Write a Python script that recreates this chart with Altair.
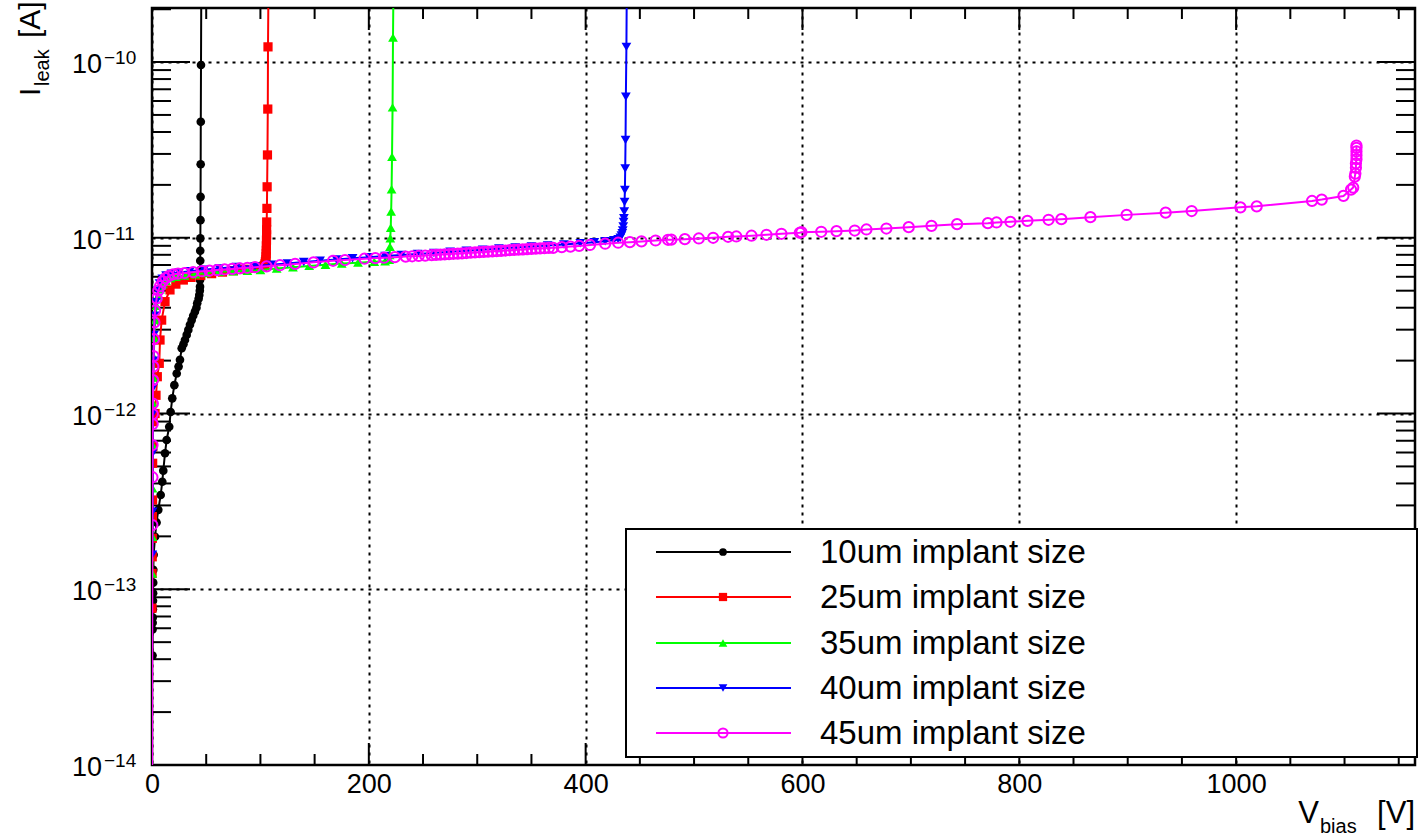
import altair as alt
import pandas as pd

# ---------------- data ----------------
labels = ["10um implant size", "25um implant size", "35um implant size",
          "40um implant size", "45um implant size"]

V_10 = [0.5, 0.5, 0.6, 0.7, 0.8, 0.9, 1.0, 1.1, 1.2, 1.5, 2.8, 4.2, 5.8, 8.0, 9.5,
        10.4, 12.0, 13.5, 15.9, 17.2, 18.7, 20.6, 22.8, 24.5, 25.8, 27.4, 29.0, 30.4,
        32.0, 33.5, 35.0, 36.6, 38.0, 39.6, 41.0, 41.7, 43.0, 43.6, 44.1, 44.3, 44.3,
        44.4, 44.4, 44.5, 44.5, 44.6, 44.7, 44.8, 44.9, 45.0, 45.2, 45.5]
I_10 = [4.2e-14, 5.9e-14, 6.45e-14, 6.9e-14, 7.7e-14, 8.6e-14, 9.5e-14, 1.09e-13,
        1.29e-13, 1.57e-13, 1.99e-13, 2.4e-13, 2.83e-13, 3.44e-13, 4.09e-13, 4.73e-13,
        5.94e-13, 7.07e-13, 8.41e-13, 1.02e-12, 1.22e-12, 1.45e-12, 1.69e-12, 1.85e-12,
        2.02e-12, 2.35e-12, 2.48e-12, 2.62e-12, 2.8e-12, 2.99e-12, 3.2e-12, 3.4e-12,
        3.6e-12, 3.8e-12, 4.0e-12, 4.24e-12, 4.5e-12, 4.72e-12, 5.0e-12, 5.27e-12,
        5.75e-12, 6.1e-12, 6.55e-12, 7.4e-12, 8.44e-12, 9.93e-12, 1.26e-11, 1.71e-11,
        2.62e-11, 4.57e-11, 9.62e-11, 3.0e-10]

V_25 = [0.0, 0.1, 0.2, 0.3, 0.4, 0.5, 0.6, 0.8, 1.0, 2.8, 3.7, 4.9, 6.7, 7.4, 8.9,
        12.0, 16.6, 22.0, 28.9, 36.0, 45.0, 55.0, 65.0, 75.0, 85.0, 95.0, 102.0, 103.5,
        104.2, 104.6, 105.0, 105.2, 105.3, 105.4, 105.5, 105.6, 105.7, 105.7, 105.8,
        106.0, 106.2, 106.5, 106.8, 107.0, 107.5]
I_25 = [7.8e-14, 1.23e-13, 1.53e-13, 1.95e-13, 2.59e-13, 3.22e-13, 5.21e-13, 6.47e-13,
        8.98e-13, 1.0e-12, 1.27e-12, 1.62e-12, 1.93e-12, 2.62e-12, 3.4e-12, 4.33e-12,
        5.05e-12, 5.45e-12, 5.75e-12, 5.95e-12, 6.1e-12, 6.25e-12, 6.38e-12, 6.5e-12,
        6.62e-12, 6.72e-12, 6.85e-12, 6.95e-12, 7.1e-12, 7.3e-12, 7.5e-12, 7.8e-12,
        8.1e-12, 8.5e-12, 9.0e-12, 9.7e-12, 1.04e-11, 1.11e-11, 1.23e-11, 1.47e-11,
        1.95e-11, 2.96e-11, 5.4e-11, 1.22e-10, 3.0e-10]

V_35 = [0.3, 0.4, 0.5, 0.6, 0.8, 1.2, 1.6, 2.2, 3.0, 4.2, 5.8, 7.5, 10.0, 13.0, 17.0,
        22.0, 30.0, 40.0, 50.0, 62.0, 75.0, 88.0, 100.0, 115.0, 130.0, 145.0, 160.0,
        175.0, 190.0, 205.0, 215.0, 218.8, 219.2, 219.5, 219.8, 220.2, 220.6, 221.0,
        221.4, 221.9, 222.3, 222.8]
I_35 = [1.23e-13, 1.99e-13, 3.75e-13, 6.62e-13, 1.15e-12, 1.6e-12, 2.1e-12, 2.7e-12,
        3.4e-12, 4.1e-12, 4.7e-12, 5.1e-12, 5.45e-12, 5.7e-12, 5.9e-12, 6.0e-12, 6.1e-12,
        6.2e-12, 6.3e-12, 6.4e-12, 6.45e-12, 6.5e-12, 6.55e-12, 6.68e-12, 6.8e-12,
        6.92e-12, 7.03e-12, 7.13e-12, 7.22e-12, 7.3e-12, 7.36e-12, 7.5e-12, 7.98e-12,
        8.89e-12, 9.93e-12, 1.14e-11, 1.41e-11, 1.89e-11, 2.89e-11, 5.52e-11, 1.38e-10,
        3.0e-10]

V_40 = [0.3, 0.5, 0.6, 0.8, 1.0, 1.3, 1.8, 2.5, 3.5, 5.0, 7.0, 9.5, 13.0, 18.0, 25.0,
        35.0, 48.0, 62.0, 78.0, 95.0, 110.0, 125.0, 140.0, 155.0, 170.0, 185.0, 200.0,
        215.0, 230.0, 245.0, 260.0, 275.0, 290.0, 305.0, 320.0, 335.0, 350.0, 365.0,
        380.0, 395.0, 408.0, 418.0, 426.0, 430.0, 432.0, 433.0, 433.8, 434.3, 434.7,
        435.0, 435.3, 435.6, 435.9, 436.2, 436.5, 436.8, 437.1, 437.6, 438.0]
I_40 = [1.57e-13, 2.76e-13, 5.94e-13, 1.0e-12, 1.4e-12, 2.0e-12, 2.8e-12, 3.6e-12,
        4.3e-12, 5.0e-12, 5.5e-12, 5.85e-12, 6.1e-12, 6.25e-12, 6.35e-12, 6.45e-12,
        6.58e-12, 6.7e-12, 6.82e-12, 6.9e-12, 7.02e-12, 7.15e-12, 7.28e-12, 7.4e-12,
        7.53e-12, 7.65e-12, 7.76e-12, 7.88e-12, 7.98e-12, 8.08e-12, 8.2e-12, 8.32e-12,
        8.44e-12, 8.56e-12, 8.68e-12, 8.8e-12, 8.92e-12, 9.04e-12, 9.16e-12, 9.3e-12,
        9.42e-12, 9.55e-12, 9.68e-12, 9.8e-12, 1.0e-11, 1.03e-11, 1.06e-11, 1.1e-11,
        1.16e-11, 1.23e-11, 1.29e-11, 1.41e-11, 1.6e-11, 1.87e-11, 2.48e-11, 3.6e-11,
        6.35e-11, 1.22e-10, 3.0e-10]

V_45 = [0.0, 0.3, 0.4, 0.5, 0.6, 0.7, 0.8, 1.0, 1.2, 1.4, 1.8, 2.2, 2.8, 4.3, 5.8, 7.4,
        9.9, 12.5, 15.4, 19.6, 24.0, 30.0, 38.0, 46.0, 53.0, 60.0, 67.0, 74.0, 81.0,
        88.0, 95.0, 105.7, 118.0, 132.0, 149.0, 167.0, 178.0, 196.0, 206.0, 214.0,
        224.0, 234.0, 240.0, 246.0, 252.0, 258.0, 262.0, 266.0, 270.0, 274.0, 278.0,
        282.0, 286.0, 290.0, 294.0, 298.0, 302.0, 306.0, 310.0, 314.0, 318.0, 322.0,
        326.0, 330.0, 334.0, 338.0, 342.0, 346.0, 350.0, 354.0, 358.0, 362.0, 366.0,
        370.0, 378.0, 386.0, 394.0, 404.0, 418.0, 430.0, 440.8, 451.5, 464.5, 476.0,
        479.0, 491.5, 504.4, 517.6, 531.4, 539.0, 553.0, 566.8, 580.6, 597.5, 599.0,
        617.3, 631.4, 648.2, 659.0, 677.4, 698.0, 719.0, 742.6, 771.0, 779.0, 791.8,
        807.5, 827.0, 838.8, 865.6, 899.0, 935.0, 959.0, 1004.0, 1019.0, 1070.0,
        1079.0, 1099.0, 1106.0, 1108.0, 1109.5, 1110.0, 1110.5, 1110.5, 1111.0, 1111.0,
        1111.0, 1111.0, 1111.0]
I_45 = [1e-15, 2.32e-13, 4.34e-13, 6.62e-13, 8.71e-13, 9.93e-13, 1.14e-12, 1.55e-12,
        1.85e-12, 2.12e-12, 2.65e-12, 3.3e-12, 3.85e-12, 4.52e-12, 5.0e-12, 5.3e-12,
        5.65e-12, 5.9e-12, 6.05e-12, 6.2e-12, 6.25e-12, 6.3e-12, 6.38e-12, 6.45e-12,
        6.5e-12, 6.55e-12, 6.6e-12, 6.65e-12, 6.7e-12, 6.75e-12, 6.8e-12, 6.88e-12,
        6.98e-12, 7.1e-12, 7.25e-12, 7.4e-12, 7.47e-12, 7.6e-12, 7.66e-12, 7.7e-12,
        7.76e-12, 7.82e-12, 7.85e-12, 7.88e-12, 7.92e-12, 7.96e-12, 7.99e-12, 8.02e-12,
        8.05e-12, 8.08e-12, 8.11e-12, 8.13e-12, 8.16e-12, 8.19e-12, 8.22e-12, 8.25e-12,
        8.28e-12, 8.31e-12, 8.34e-12, 8.37e-12, 8.4e-12, 8.43e-12, 8.46e-12, 8.5e-12,
        8.53e-12, 8.56e-12, 8.59e-12, 8.62e-12, 8.65e-12, 8.68e-12, 8.7e-12, 8.72e-12,
        8.75e-12, 8.77e-12, 8.84e-12, 8.91e-12, 8.99e-12, 9.1e-12, 9.25e-12, 9.37e-12,
        9.44e-12, 9.53e-12, 9.65e-12, 9.74e-12, 9.76e-12, 9.82e-12, 9.91e-12, 1.0e-11,
        1.013e-11, 1.017e-11, 1.027e-11, 1.04e-11, 1.054e-11, 1.068e-11, 1.076e-11,
        1.082e-11, 1.09e-11, 1.1e-11, 1.115e-11, 1.129e-11, 1.149e-11, 1.17e-11,
        1.195e-11, 1.211e-11, 1.222e-11, 1.233e-11, 1.249e-11, 1.266e-11, 1.276e-11,
        1.31e-11, 1.35e-11, 1.39e-11, 1.42e-11, 1.49e-11, 1.51e-11, 1.62e-11, 1.65e-11,
        1.73e-11, 1.88e-11, 1.93e-11, 2.23e-11, 2.32e-11, 2.5e-11, 2.65e-11, 2.8e-11,
        2.95e-11, 3.1e-11, 3.25e-11, 3.35e-11]

x_major = [0, 200, 400, 600, 800, 1000]
x_minor = [50, 100, 150, 250, 300, 350, 450, 500, 550, 650, 700, 750, 850, 900, 950,
           1050, 1100, 1150]
y_major = [1e-14, 1e-13, 1e-12, 1e-11, 1e-10]
y_exp = ["\u221214", "\u221213", "\u221212", "\u221211", "\u221210"]
y_minor = [m * 10.0 ** e for e in range(-14, -9) for m in range(2, 10)] + [2e-10]

colors = ["#000000", "#ff0000", "#00ff00", "#0000ff", "#ff00ff"]
shapes = ["circle", "square", "triangle-up", "triangle-down", "circle"]
filled = [True, True, True, True, False]
sizes = [75, 85, 95, 95, 105]

series_V = [V_10, V_25, V_35, V_40, V_45]
series_I = [I_10, I_25, I_35, I_40, I_45]

rows = []
for name, vs, ys in zip(labels, series_V, series_I):
    assert len(vs) == len(ys)
    for k, (v, i) in enumerate(zip(vs, ys)):
        rows.append({"series": name, "V": v, "I": i, "idx": k})
df = pd.DataFrame(rows)

# ---------------- layout ----------------
W, H = 1263, 757
FONT = "Liberation Sans"

xscale = alt.Scale(domain=[0, 1165], nice=False, zero=False)
yscale = alt.Scale(type="log", domain=[1e-14, 2.03e-10], nice=False)
xaxis = alt.Axis(values=x_major, format="d", labelFontSize=27,
                 labelFont=FONT, labelColor="black", domain=False, ticks=False,
                 grid=True, gridColor="black", gridDash=[3, 5], gridWidth=2,
                 labelPadding=6, title=None, labelOverlap=False, labelFlush=False)
yaxis = alt.Axis(values=y_major[1:], labels=False, domain=False, ticks=False,
                 grid=True, gridColor="black", gridDash=[3, 5], gridWidth=2,
                 title=None)

X = lambda f: alt.X(f, scale=xscale, axis=xaxis)
Y = lambda f: alt.Y(f, scale=yscale, axis=yaxis)

layers = []
# ticks (inside, on all four sides)
xmaj = alt.Chart(pd.DataFrame({"v": x_major}))
xmin = alt.Chart(pd.DataFrame({"v": x_minor}))
ymaj = alt.Chart(pd.DataFrame({"v": y_major}))
ymin = alt.Chart(pd.DataFrame({"v": y_minor}))
tick = dict(color="black", strokeWidth=2, clip=True)
layers += [
    xmaj.mark_rule(**tick).encode(x=X("v:Q"), y=alt.value(H), y2=alt.value(H - 22)),
    xmaj.mark_rule(**tick).encode(x=X("v:Q"), y=alt.value(0), y2=alt.value(22)),
    xmin.mark_rule(**tick).encode(x=X("v:Q"), y=alt.value(H), y2=alt.value(H - 11)),
    xmin.mark_rule(**tick).encode(x=X("v:Q"), y=alt.value(0), y2=alt.value(11)),
    ymaj.mark_rule(**tick).encode(y=Y("v:Q"), x=alt.value(0), x2=alt.value(38)),
    ymaj.mark_rule(**tick).encode(y=Y("v:Q"), x=alt.value(W), x2=alt.value(W - 38)),
    ymin.mark_rule(**tick).encode(y=Y("v:Q"), x=alt.value(0), x2=alt.value(19)),
    ymin.mark_rule(**tick).encode(y=Y("v:Q"), x=alt.value(W), x2=alt.value(W - 19)),
]

# y tick labels 10^-n
ylab = alt.Chart(pd.DataFrame({"v": y_major, "e": y_exp}))
layers += [
    ylab.mark_text(align="right", baseline="middle", fontSize=27, font=FONT,
                   color="black", dy=3).encode(y=Y("v:Q"), x=alt.value(-50),
                                              text=alt.value("10")),
    ylab.mark_text(align="left", baseline="middle", fontSize=19, font=FONT,
                   color="black", dy=-4).encode(y=Y("v:Q"), x=alt.value(-48),
                                               text="e:N"),
]

# data series
for name, c, sh, fi, sz in zip(labels, colors, shapes, filled, sizes):
    base = alt.Chart(df).transform_filter(alt.datum.series == name)
    layers.append(base.mark_line(color=c, strokeWidth=2, clip=True).encode(
        x=X("V:Q"), y=Y("I:Q"), order="idx:Q"))
    layers.append(base.mark_point(shape=sh, filled=fi, size=sz, color=c, opacity=1,
                                  strokeWidth=2, clip=True).encode(
        x=X("V:Q"), y=Y("I:Q")))

# legend
dummy = alt.Data(values=[{}])
layers.append(alt.Chart(dummy).mark_rect(fill="white", stroke="black", strokeWidth=2)
              .encode(x=alt.value(474), x2=alt.value(1265), y=alt.value(521),
                      y2=alt.value(749)))
row_y = [544, 589, 635, 680, 725]
for name, c, sh, fi, sz, ry in zip(labels, colors, shapes, filled, sizes, row_y):
    layers.append(alt.Chart(dummy).mark_rule(color=c, strokeWidth=2).encode(
        x=alt.value(504), x2=alt.value(639), y=alt.value(ry)))
    layers.append(alt.Chart(dummy).mark_point(shape=sh, filled=fi, size=sz * 0.8,
                                              color=c, opacity=1, strokeWidth=2).encode(
        x=alt.value(571), y=alt.value(ry)))
    layers.append(alt.Chart(dummy).mark_text(align="left", baseline="middle",
                                             fontSize=33, font=FONT, color="black",
                                             dy=1).encode(
        x=alt.value(668), y=alt.value(ry), text=alt.value(name)))

# axis titles
def txt(s, x, y, size, angle=0, align="left"):
    kw = dict(align=align, baseline="alphabetic", fontSize=size, font=FONT,
              color="black")
    if angle:
        kw["angle"] = angle
    return alt.Chart(dummy).mark_text(**kw).encode(
        x=alt.value(x), y=alt.value(y), text=alt.value(s))

layers += [
    txt("[V]", W, 815, 31, align="right"),
    txt("bias", 1168, 825, 20, align="left"),
    txt("V", 1167, 815, 31, align="right"),
    txt("I", -112, 88, 30, angle=270),
    txt("leak", -103, 78, 20, angle=270),
    txt("[A]", -112, 30, 30, angle=270),
]

chart = alt.layer(*layers).properties(
    width=W, height=H,
    autosize=alt.AutoSizeParams(type="none"),
    padding={"left": 152, "top": 8, "right": 4, "bottom": 71},
    background="white",
).configure_view(stroke="black", strokeWidth=2.5)

chart.save("out.html", embed_options={"renderer": "svg", "actions": False})
